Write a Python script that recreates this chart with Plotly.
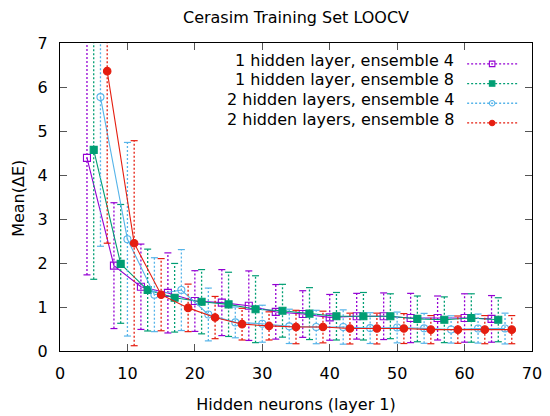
import plotly.graph_objects as go

# ---- data ----
labels = ["1 hidden layer, ensemble 4", "1 hidden layer, ensemble 8",
          "2 hidden layers, ensemble 4", "2 hidden layers, ensemble 8"]

x_h1_e4 = [4, 8, 12, 16, 20, 24, 28, 32, 36, 40, 44, 48, 52, 56, 60, 64]
y_h1_e4 = [4.39, 1.94, 1.46, 1.32, 1.135, 1.10, 1.03, 0.89, 0.84, 0.765, 0.79, 0.79, 0.75, 0.75, 0.75, 0.73]
e_h1_e4 = [2.66, 1.43, 0.97, 0.91, 0.69, 0.75, 0.79, 0.62, 0.53, 0.52, 0.52, 0.53, 0.56, 0.50, 0.55, 0.53]

x_h1_e8 = [5, 9, 13, 17, 21, 25, 29, 33, 37, 41, 45, 49, 53, 57, 61, 65]
y_h1_e8 = [4.57, 1.98, 1.385, 1.21, 1.12, 1.06, 0.95, 0.915, 0.85, 0.79, 0.79, 0.79, 0.73, 0.71, 0.75, 0.71]
e_h1_e8 = [2.94, 1.35, 0.93, 0.78, 0.73, 0.73, 0.76, 0.60, 0.59, 0.54, 0.54, 0.51, 0.52, 0.52, 0.55, 0.50]

x_h2_e4 = [6, 10, 14, 18, 22, 26, 30, 34, 38, 42, 46, 50, 54, 58, 62, 66]
y_h2_e4 = [5.77, 2.54, 1.28, 1.385, 0.83, 0.65, 0.62, 0.56, 0.545, 0.545, 0.52, 0.535, 0.515, 0.49, 0.51, 0.51]
e_h2_e4 = [3.39, 2.20, 0.84, 0.92, 0.60, 0.35, 0.42, 0.39, 0.38, 0.39, 0.35, 0.35, 0.34, 0.31, 0.33, 0.35]

x_h2_e8 = [7, 11, 15, 19, 23, 27, 31, 35, 39, 43, 47, 51, 55, 59, 63, 67]
y_h2_e8 = [6.36, 2.45, 1.28, 0.98, 0.76, 0.61, 0.57, 0.545, 0.545, 0.51, 0.51, 0.51, 0.485, 0.485, 0.485, 0.485]
e_h2_e8 = [3.91, 2.33, 0.82, 0.54, 0.48, 0.36, 0.32, 0.38, 0.36, 0.35, 0.35, 0.34, 0.32, 0.31, 0.32, 0.32]

x_ticks = [0, 10, 20, 30, 40, 50, 60, 70]
y_ticks = [0, 1, 2, 3, 4, 5, 6, 7]

series = [
    (x_h1_e4, y_h1_e4, e_h1_e4, "#9400d3", "square-open", 7),
    (x_h1_e8, y_h1_e8, e_h1_e8, "#009e73", "square", 7),
    (x_h2_e4, y_h2_e4, e_h2_e4, "#56b4e9", "circle-open", 7),
    (x_h2_e8, y_h2_e8, e_h2_e8, "#e51e10", "circle", 7.5),
]

FONT = "DejaVu Sans"
FS = 16
fig = go.Figure()

for (xs, ys, es, col, sym, msz) in series:
    sx, sy = [], []
    for xv, yv, ev in zip(xs, ys, es):
        sx += [xv, xv, None]
        sy += [yv - ev, yv + ev, None]
    fig.add_trace(go.Scatter(x=sx, y=sy, mode="lines", showlegend=False,
                             line=dict(color=col, width=1.3, dash="2px,2px"),
                             hoverinfo="skip"))
    fig.add_trace(go.Scatter(x=xs + xs,
                             y=[yv - ev for yv, ev in zip(ys, es)] + [yv + ev for yv, ev in zip(ys, es)],
                             mode="markers", showlegend=False, hoverinfo="skip",
                             marker=dict(symbol="line-ew", size=5, color=col,
                                         line=dict(color=col, width=1.2))))
    fig.add_trace(go.Scatter(x=xs, y=ys, mode="lines+markers", showlegend=False,
                             line=dict(color=col, width=1.1),
                             marker=dict(symbol=sym, size=msz, color=col,
                                         line=dict(color=col, width=1.1))))

for (xs, ys, es, col, sym, msz), lab in zip(series, labels):
    fig.add_trace(go.Scatter(x=[None], y=[None], mode="lines+markers", name=" ",
                             line=dict(color=col, width=1.3, dash="2px,2px"),
                             marker=dict(symbol=sym, size=5.5, color=col,
                                         line=dict(color=col, width=1.1))))

row_y = [0.9448, 0.8808, 0.8169, 0.7529]
for lab, yy in zip(labels, row_y):
    fig.add_annotation(text=lab, xref="paper", yref="paper", x=0.8394, y=yy,
                       xanchor="right", yanchor="middle", showarrow=False,
                       font=dict(family=FONT, size=FS, color="black"))

# y-axis title (placed as rotated text, as in the reference)
fig.add_annotation(text="Mean(ΔE)", xref="paper", yref="paper", x=-0.087, y=0.497,
                   xanchor="center", yanchor="middle", textangle=-90, showarrow=False,
                   font=dict(family=FONT, size=FS, color="black"))

axis_common = dict(showline=True, linecolor="black", linewidth=1, mirror="ticks",
                   ticks="inside", ticklen=7, tickcolor="#555", tickwidth=1,
                   showgrid=False, zeroline=False, automargin=False,
                   tickfont=dict(family=FONT, size=FS, color="black"))

fig.update_layout(
    width=542, height=408,
    margin=dict(l=52, r=18, t=35, b=65, autoexpand=False),
    paper_bgcolor="white", plot_bgcolor="white",
    title=dict(text="Cerasim Training Set LOOCV", xref="paper", x=0.5, xanchor="center",
               yref="container", y=0.99, yanchor="top", automargin=False,
               font=dict(family=FONT, size=FS, color="black")),
    xaxis=dict(range=[0, 70], tickvals=x_ticks, ticklabelstandoff=8,
               title=dict(text="Hidden neurons (layer 1)", standoff=16,
                          font=dict(family=FONT, size=FS, color="black")),
               **axis_common),
    yaxis=dict(range=[0, 7], tickvals=y_ticks, ticklabelstandoff=8,
               **axis_common),
    legend=dict(x=0.852, xanchor="left", y=0.9805, yanchor="top",
                bgcolor="rgba(0,0,0,0)", font=dict(family=FONT, size=12.85),
                tracegroupgap=0, itemwidth=50),
    showlegend=True,
)

fig.write_html("out.html")
